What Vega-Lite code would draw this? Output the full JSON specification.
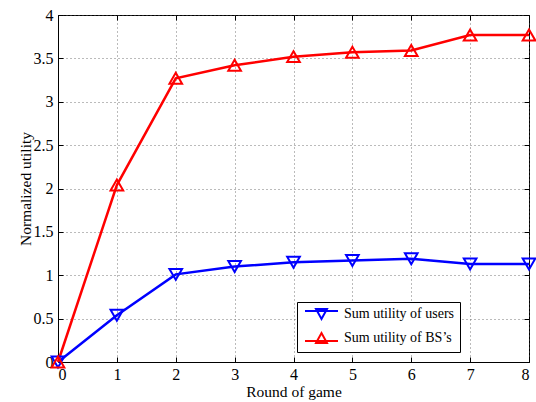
{
  "$schema": "https://vega.github.io/schema/vega-lite/v6.json",
  "width": 471,
  "height": 347,
  "autosize": "none",
  "padding": {"left": 58, "top": 15, "right": 7, "bottom": 40},
  "background": "white",
  "config": {
    "font": "Liberation Serif",
    "view": {"stroke": "black", "strokeWidth": 1},
    "axis": {
      "labelFont": "Liberation Serif",
      "titleFont": "Liberation Serif",
      "labelFontSize": 16,
      "titleFontSize": 15.5,
      "titleFontWeight": "normal",
      "labelColor": "black",
      "titleColor": "black",
      "domainColor": "black",
      "tickColor": "black",
      "gridColor": "#555",
      "gridDash": [1, 3],
      "gridOpacity": 0.8,
      "tickSize": -5
    },
    "legend": {
      "labelFont": "Liberation Serif",
      "labelFontSize": 14,
      "labelColor": "black"
    }
  },
  "data": {
    "values": [
      {"round": 0, "value": 0, "series": "Sum utility of users"},
      {"round": 1, "value": 0.54, "series": "Sum utility of users"},
      {"round": 2, "value": 1.01, "series": "Sum utility of users"},
      {"round": 3, "value": 1.10, "series": "Sum utility of users"},
      {"round": 4, "value": 1.15, "series": "Sum utility of users"},
      {"round": 5, "value": 1.17, "series": "Sum utility of users"},
      {"round": 6, "value": 1.19, "series": "Sum utility of users"},
      {"round": 7, "value": 1.13, "series": "Sum utility of users"},
      {"round": 8, "value": 1.13, "series": "Sum utility of users"},
      {"round": 0, "value": 0, "series": "Sum utility of BS’s"},
      {"round": 1, "value": 2.04, "series": "Sum utility of BS’s"},
      {"round": 2, "value": 3.27, "series": "Sum utility of BS’s"},
      {"round": 3, "value": 3.42, "series": "Sum utility of BS’s"},
      {"round": 4, "value": 3.52, "series": "Sum utility of BS’s"},
      {"round": 5, "value": 3.57, "series": "Sum utility of BS’s"},
      {"round": 6, "value": 3.59, "series": "Sum utility of BS’s"},
      {"round": 7, "value": 3.77, "series": "Sum utility of BS’s"},
      {"round": 8, "value": 3.77, "series": "Sum utility of BS’s"}
    ]
  },
  "layer": [
    {
      "mark": {"type": "line", "strokeWidth": 2.5, "clip": false},
      "encoding": {
        "x": {
          "field": "round", "type": "quantitative",
          "scale": {"domain": [0, 8], "nice": false, "zero": false},
          "axis": {"values": [0,1,2,3,4,5,6,7,8], "title": "Round of game", "titleY": 29, "titleBaseline": "middle", "labelPadding": 9, "grid": true, "format": "d"}
        },
        "y": {
          "field": "value", "type": "quantitative",
          "scale": {"domain": [0, 4], "nice": false},
          "axis": {"values": [0,0.5,1,1.5,2,2.5,3,3.5,4], "title": "Normalized utility", "titleX": -33, "titleBaseline": "middle", "titleAlign": "center", "labelPadding": 10, "grid": true, "format": "~g"}
        },
        "color": {
          "field": "series", "type": "nominal",
          "scale": {"domain": ["Sum utility of users", "Sum utility of BS’s"], "range": ["#0000ff", "#ff0000"]},
          "legend": {
            "title": null,
            "orient": "none",
            "legendX": 239,
            "legendY": 287,
            "fillColor": "white",
            "strokeColor": "black",
            "padding": 5,
            "symbolSize": 100,
            "symbolStrokeWidth": 2,
            "symbolFillColor": "transparent",
            "labelOffset": 28,
            "rowPadding": 6,
            "encode": {
              "symbols": {
                "update": {
                  "shape": {"signal": "datum.value === 'Sum utility of users' ? 'M-0.8,-0.6H5.8M1.4,-1L3.6,-1L2.5,1Z' : 'M-0.8,0.6H5.8M1.4,1L3.6,1L2.5,-1Z'"},
                  "fill": {"value": "transparent"}
                }
              }
            }
          }
        }
      }
    },
    {
      "transform": [{"filter": "datum.series === 'Sum utility of users'"}],
      "mark": {"type": "point", "shape": "triangle-down", "filled": false, "size": 160, "strokeWidth": 2, "opacity": 1, "clip": false},
      "encoding": {
        "x": {"field": "round", "type": "quantitative", "axis": null},
        "y": {"field": "value", "type": "quantitative", "axis": null},
        "color": {"field": "series", "type": "nominal"}
      }
    },
    {
      "transform": [{"filter": "datum.series !== 'Sum utility of users'"}],
      "mark": {"type": "point", "shape": "triangle-up", "filled": false, "size": 160, "strokeWidth": 2, "opacity": 1, "clip": false},
      "encoding": {
        "x": {
          "field": "round", "type": "quantitative",
          "axis": {"orient": "top", "values": [0,1,2,3,4,5,6,7,8], "labels": false, "title": null, "grid": false, "domain": false}
        },
        "y": {
          "field": "value", "type": "quantitative",
          "axis": {"orient": "right", "values": [0,0.5,1,1.5,2,2.5,3,3.5,4], "labels": false, "title": null, "grid": false, "domain": false}
        },
        "color": {"field": "series", "type": "nominal"}
      }
    }
  ],
  "resolve": {"axis": {"x": "independent", "y": "independent"}}
}
